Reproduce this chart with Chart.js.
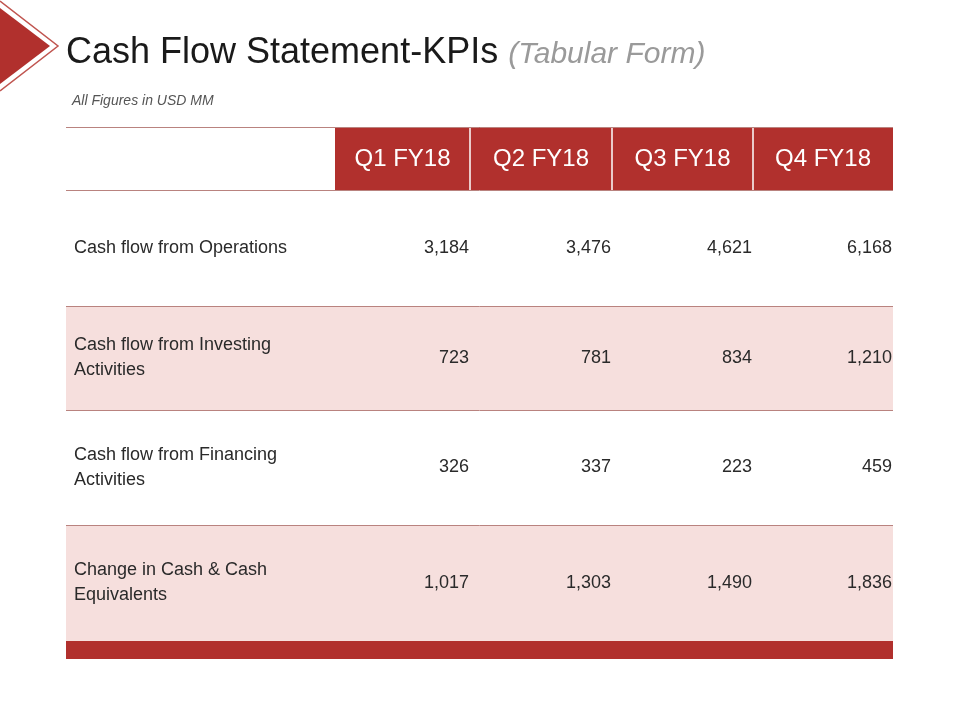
<!DOCTYPE html>
<html><head><meta charset="utf-8">
<script src="https://cdn.jsdelivr.net/npm/chart.js@4"></script>
<style>html,body{margin:0;padding:0;background:#fff}</style>
</head><body>
<canvas id="c" width="960" height="720"></canvas>
<script>
const title = "Cash Flow Statement-KPIs";
const titleSub = "(Tabular Form)";
const note = "All Figures in USD MM";
const quarters = ["Q1 FY18","Q2 FY18","Q3 FY18","Q4 FY18"];
const rowLabels = [["Cash flow from Operations"],["Cash flow from Investing","Activities"],["Cash flow from Financing","Activities"],["Change in Cash & Cash","Equivalents"]];
const operations = ["3,184","3,476","4,621","6,168"];
const investing = ["723","781","834","1,210"];
const financing = ["326","337","223","459"];
const changeCash = ["1,017","1,303","1,490","1,836"];
const rows = [operations, investing, financing, changeCash];

const RED = "#B1302D", PINK = "#F6DFDD", LINE = "#B9837F";
const colX = [0, 269, 404, 546, 687, 827];      // table units
const rowY = [0, 63, 179, 283, 398, 514, 532];  // table units

const tablePlugin = {
  id: 'table',
  afterDraw(chart) {
    const ctx = chart.ctx, xs = chart.scales.x, ys = chart.scales.y;
    const X = v => xs.getPixelForValue(v), Y = v => ys.getPixelForValue(v);
    ctx.save();
    // arrow
    ctx.fillStyle = RED;
    ctx.beginPath(); ctx.moveTo(0,8); ctx.lineTo(50,46); ctx.lineTo(0,84); ctx.closePath(); ctx.fill();
    ctx.strokeStyle = "#C05550"; ctx.lineWidth = 1.5;
    ctx.beginPath(); ctx.moveTo(0,1); ctx.lineTo(58,46); ctx.lineTo(0,91); ctx.stroke();
    // title
    ctx.textBaseline = "alphabetic"; ctx.textAlign = "left";
    ctx.fillStyle = "#1a1a1a"; ctx.font = "36px 'Liberation Sans', Arial";
    ctx.fillText(title, 66, 63);
    const tw = ctx.measureText(title).width;
    ctx.fillStyle = "#9a9a9a"; ctx.font = "italic 30px 'Liberation Sans', Arial";
    ctx.fillText(titleSub, 66 + tw + 10, 63);
    ctx.fillStyle = "#555"; ctx.font = "italic 14px 'Liberation Sans', Arial";
    ctx.fillText(note, 72, 105);
    // header
    for (let i = 0; i < 4; i++) {
      ctx.fillStyle = RED;
      ctx.fillRect(X(colX[i+1]), Y(rowY[0]), X(colX[i+2]) - X(colX[i+1]), Y(rowY[1]) - Y(rowY[0]));
    }
    ctx.strokeStyle = "#fff"; ctx.lineWidth = 1.5;
    for (let i = 2; i < 5; i++) { ctx.beginPath(); ctx.moveTo(X(colX[i]), Y(rowY[0])); ctx.lineTo(X(colX[i]), Y(rowY[1])); ctx.stroke(); }
    ctx.fillStyle = "#fff"; ctx.font = "24px 'Liberation Sans', Arial"; ctx.textAlign = "center"; ctx.textBaseline = "middle";
    quarters.forEach((q, i) => ctx.fillText(q, (X(colX[i+1]) + X(colX[i+2])) / 2, (Y(rowY[0]) + Y(rowY[1])) / 2 + 1));
    // rows
    rows.forEach((r, ri) => {
      const y0 = Y(rowY[ri+1]), y1 = Y(rowY[ri+2]);
      if (ri % 2 === 1) { ctx.fillStyle = PINK; ctx.fillRect(X(0), y0, X(colX[5]) - X(0), y1 - y0); }
      const cy = (y0 + y1) / 2;
      ctx.fillStyle = "#2a2a2a"; ctx.font = "18px 'Liberation Sans', Arial"; ctx.textAlign = "left";
      const lab = rowLabels[ri];
      lab.forEach((t, k) => ctx.fillText(t, X(0) + 8, cy + (k - (lab.length - 1) / 2) * 25));
      ctx.textAlign = "right";
      r.forEach((v, ci) => ctx.fillText(v, X(colX[ci+2]) - 1, cy));
    });
    // lines
    ctx.strokeStyle = LINE; ctx.lineWidth = 1;
    for (let k = 0; k <= 5; k++) {
      const x0 = k === 0 ? X(colX[0]) : X(colX[0]);
      ctx.beginPath(); ctx.moveTo(x0, Y(rowY[k]) + 0.5); ctx.lineTo(X(colX[5]), Y(rowY[k]) + 0.5); ctx.stroke();
    }
    // footer bar
    ctx.fillStyle = RED;
    ctx.fillRect(X(0), Y(rowY[5]), X(colX[5]) - X(0), Y(rowY[6]) - Y(rowY[5]));
    ctx.restore();
  }
};

new Chart(document.getElementById('c'), {
  type: 'scatter',
  data: { datasets: [{ data: [] }] },
  options: {
    responsive: false, animation: false,
    layout: { padding: { left: 66, right: 67, top: 127, bottom: 61 } },
    plugins: { legend: { display: false }, tooltip: { enabled: false } },
    scales: {
      x: { type: 'linear', min: 0, max: 827, display: false },
      y: { type: 'linear', min: 0, max: 532, reverse: true, display: false }
    }
  },
  plugins: [tablePlugin]
});
</script>
</body></html>
